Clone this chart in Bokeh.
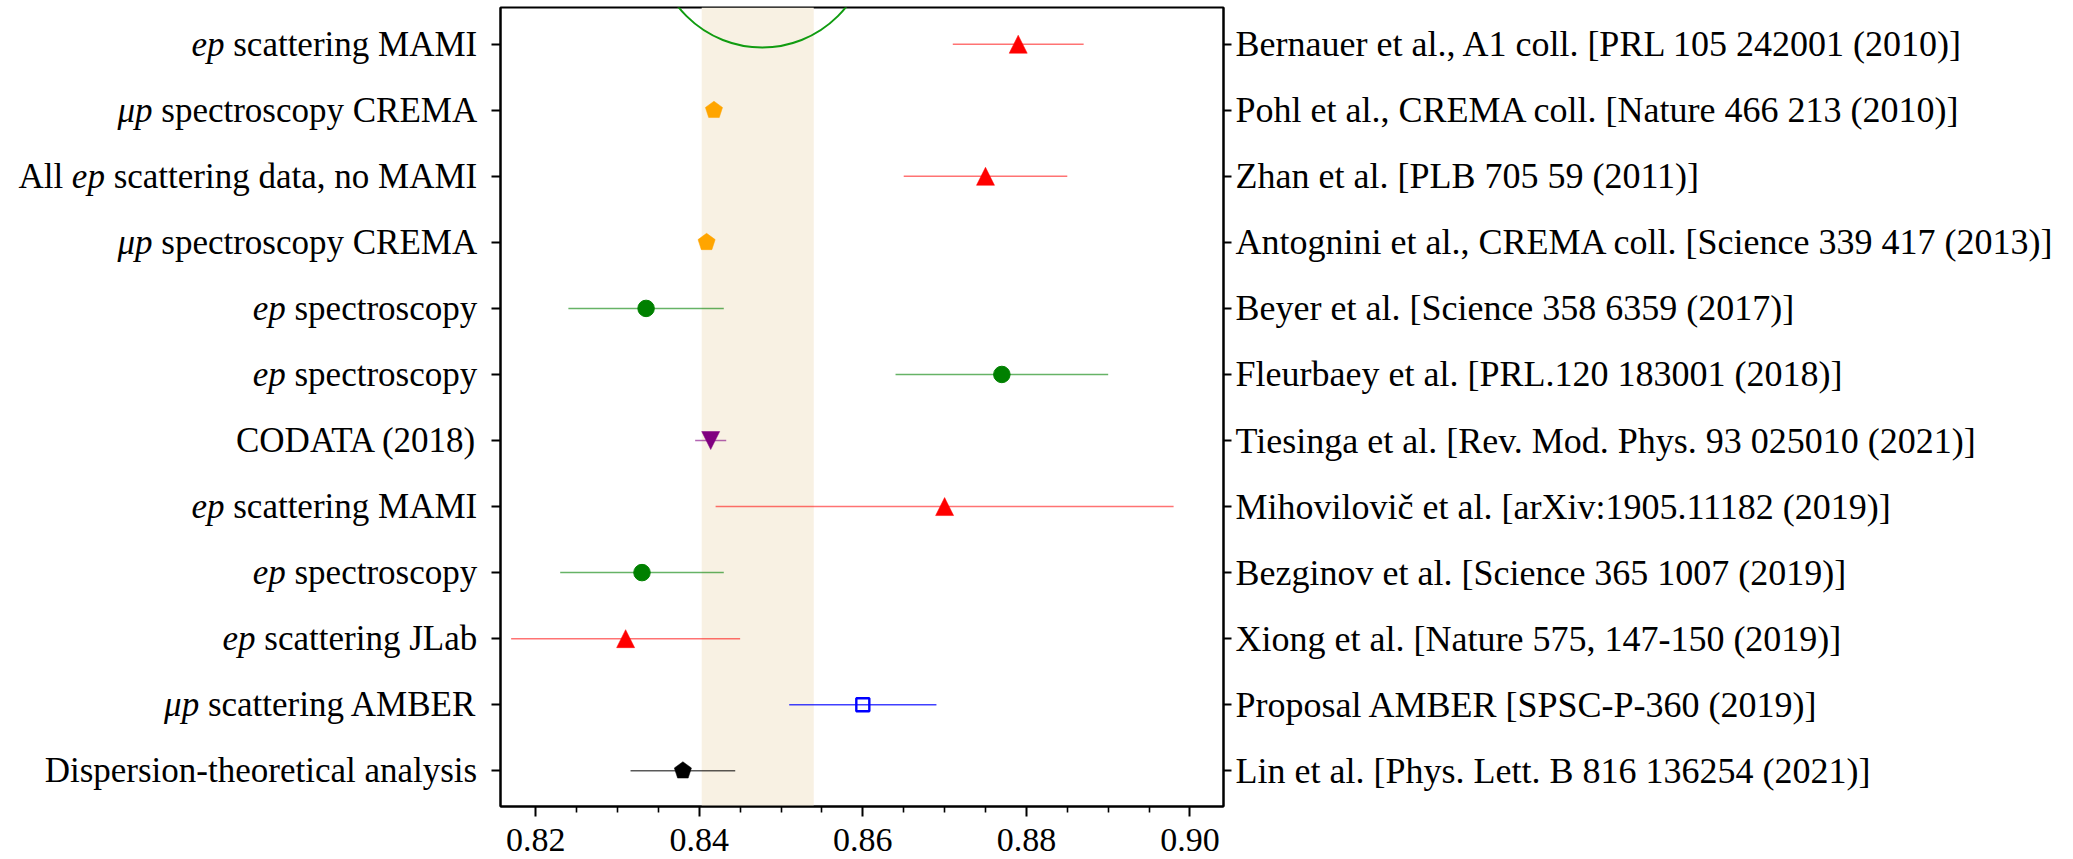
import math
from bokeh.plotting import figure
from bokeh.layouts import row
from bokeh.models import (Range1d, FixedTicker, LinearAxis, BoxAnnotation,
                          ColumnDataSource, CustomJSTickFormatter)
from bokeh.core.properties import value
from bokeh.embed import file_html
from bokeh.resources import INLINE

# ---------------- data ----------------
# left labels: text in {braces} is set in italic
left_labels = [
    "{ep} scattering MAMI",
    "{μp} spectroscopy CREMA",
    "All {ep} scattering data, no MAMI",
    "{μp} spectroscopy CREMA",
    "{ep} spectroscopy",
    "{ep} spectroscopy",
    "CODATA (2018)",
    "{ep} scattering MAMI",
    "{ep} spectroscopy",
    "{ep} scattering JLab",
    "{μp} scattering AMBER",
    "Dispersion-theoretical analysis",
]
right_labels = [
    "Bernauer et al., A1 coll. [PRL 105 242001 (2010)]",
    "Pohl et al., CREMA coll. [Nature 466 213 (2010)]",
    "Zhan et al. [PLB 705 59 (2011)]",
    "Antognini et al., CREMA coll. [Science 339 417 (2013)]",
    "Beyer et al. [Science 358 6359 (2017)]",
    "Fleurbaey et al. [PRL.120 183001 (2018)]",
    "Tiesinga et al. [Rev. Mod. Phys. 93 025010 (2021)]",
    "Mihovilovič et al. [arXiv:1905.11182 (2019)]",
    "Bezginov et al. [Science 365 1007 (2019)]",
    "Xiong et al. [Nature 575, 147-150 (2019)]",
    "Proposal AMBER [SPSC-P-360 (2019)]",
    "Lin et al. [Phys. Lett. B 816 136254 (2021)]",
]
radius = [0.879, 0.8418, 0.875, 0.8409, 0.8335, 0.877, 0.8414, 0.870, 0.833, 0.831, 0.860, 0.838]
err_minus = [0.008, 0.0007, 0.010, 0.0004, 0.0095, 0.013, 0.0019, 0.028, 0.010, 0.014, 0.009, 0.0064]
err_plus = [0.008, 0.0007, 0.010, 0.0004, 0.0095, 0.013, 0.0019, 0.028, 0.010, 0.014, 0.009, 0.0064]
marker_kind = ["triangle", "pentagon", "triangle", "pentagon", "circle", "circle",
               "inverted_triangle", "triangle", "circle", "triangle", "square", "pentagon"]

x_ticks = [0.82, 0.84, 0.86, 0.88, 0.90]
x_tick_labels = ["0.82", "0.84", "0.86", "0.88", "0.90"]
x_minor_ticks = [0.825, 0.83, 0.835, 0.845, 0.85, 0.855, 0.865, 0.87, 0.875,
                 0.885, 0.89, 0.895]
band_lo, band_hi = 0.8403, 0.8540
circle_x, circle_y = 0.8477, -1.57   # highlight circle centre (x, row)

# ---------------- style ----------------
colors = ["red", "orange", "red", "orange", "green", "green", "purple", "red",
          "green", "red", "blue", "black"]
bar_alpha = [0.55, 0.6, 0.55, 0.6, 0.6, 0.6, 0.6, 0.55, 0.6, 0.55, 0.75, 0.65]
SERIF = "Liberation Serif"
LEFT_FS = 35
RIGHT_FS = "36px"
TICK_FS = "34px"
TRI_H = 9.0      # half size of triangles, px
PENT_R = 9.0     # pentagon circumradius, px

X0, X1 = 0.8157, 0.9041
FRAME_W, FRAME_H = 723, 799
TOP_B = 7
LEFT_W = 480          # width of the label panel left of the plot
n = len(left_labels)
rows = list(range(n))
Y_TOP, Y_BOT = -0.5557, n - 1 + 0.541
PX_X = FRAME_W / (X1 - X0)
PX_Y = FRAME_H / (Y_BOT - Y_TOP)
y_rng = Range1d(Y_BOT, Y_TOP)

p = figure(frame_width=FRAME_W, frame_height=FRAME_H,
           x_range=Range1d(X0, X1), y_range=y_rng,
           output_backend="svg", toolbar_location=None,
           min_border_left=20, min_border_top=TOP_B, min_border_bottom=53,
           min_border_right=0, background_fill_color="white",
           border_fill_color="white")
p.xgrid.visible = False
p.ygrid.visible = False
p.outline_line_color = "black"
p.outline_line_width = 2

# band
p.add_layout(BoxAnnotation(left=band_lo, right=band_hi, fill_color="#f8f1e3",
                           fill_alpha=1.0, line_color=None, level="underlay"))

# highlight circle
r_px = 107
p.ellipse(x=[circle_x], y=[circle_y], width=2 * r_px / PX_X, height=2 * r_px / PX_Y,
          fill_color=None, line_color="#119c11", line_width=2)

# error bars
seg = ColumnDataSource(dict(
    x0=[r - m for r, m in zip(radius, err_minus)],
    x1=[r + m for r, m in zip(radius, err_plus)],
    y=rows, color=colors, alpha=bar_alpha))
p.segment(x0="x0", y0="y", x1="x1", y1="y", line_color="color",
          line_alpha="alpha", line_width=1.5, source=seg)

# polygon markers (matplotlib-like shapes)
def shape(kind):
    h = TRI_H
    if kind == "triangle":
        return [(0, h), (-h, -h), (h, -h)]
    if kind == "inverted_triangle":
        return [(0, -h), (-h, h), (h, h)]
    R = PENT_R
    return [(R * math.sin(math.radians(72 * k)), R * math.cos(math.radians(72 * k)))
            for k in range(5)]

pxs, pys, pcs = [], [], []
for i in rows:
    if marker_kind[i] in ("triangle", "inverted_triangle", "pentagon"):
        verts = shape(marker_kind[i])
        pxs.append([radius[i] + vx / PX_X for vx, vy in verts])
        pys.append([i - vy / PX_Y for vx, vy in verts])
        pcs.append(colors[i])
p.patches(xs="xs", ys="ys", fill_color="c", line_color="c", line_width=0.5,
          source=ColumnDataSource(dict(xs=pxs, ys=pys, c=pcs)))

ci = [i for i in rows if marker_kind[i] == "circle"]
p.scatter(x=[radius[i] for i in ci], y=ci, marker="circle", size=16.5,
          fill_color=[colors[i] for i in ci], line_color=[colors[i] for i in ci])
si = [i for i in rows if marker_kind[i] == "square"]
p.scatter(x=[radius[i] for i in si], y=si, marker="square", size=13,
          fill_color=None, line_color=[colors[i] for i in si], line_width=2.4)

# bottom axis
xa = p.xaxis[0]
xa.ticker = FixedTicker(ticks=x_ticks, minor_ticks=x_minor_ticks)
xa.major_label_overrides = {v: t for v, t in zip(x_ticks, x_tick_labels)}
xa.major_label_text_font = SERIF
xa.major_label_text_font_size = TICK_FS
xa.major_label_text_color = "black"
xa.major_label_standoff = 12
xa.axis_line_width = 2
xa.major_tick_out = 10
xa.major_tick_in = 0
xa.minor_tick_out = 6
xa.minor_tick_in = 0
xa.major_tick_line_width = 2
xa.minor_tick_line_width = 1.6

# left axis (ticks only; the labels are in the panel on the left)
ya = p.yaxis[0]
ya.ticker = FixedTicker(ticks=rows)
ya.formatter = CustomJSTickFormatter(code="return ''")
ya.major_label_text_font_size = "1px"
ya.major_label_standoff = 1
ya.axis_line_width = 2
ya.major_tick_out = 9
ya.major_tick_in = 0
ya.major_tick_line_width = 2
ya.minor_tick_out = 0
ya.minor_tick_in = 0

# right axis with references
ra = LinearAxis(ticker=FixedTicker(ticks=rows),
                major_label_overrides={i: t for i, t in enumerate(right_labels)})
ra.axis_line_width = 2
ra.major_tick_out = 8
ra.major_tick_in = 0
ra.major_tick_line_width = 2
ra.minor_tick_out = 0
ra.minor_tick_in = 0
ra.major_label_standoff = 4
ra.major_label_text_font = SERIF
ra.major_label_text_font_size = RIGHT_FS
ra.major_label_text_color = "black"
p.add_layout(ra, "right")

# ---------------- left label panel (mixed italic / upright) ----------------
TW = {' ': 250, '(': 333, ')': 333, ',': 250, '-': 333, '.': 250, ':': 278,
      'A': 722, 'B': 667, 'C': 667, 'D': 722, 'E': 611, 'I': 333, 'J': 389,
      'L': 611, 'M': 889, 'O': 722, 'R': 667, 'T': 611,
      'a': 444, 'b': 500, 'c': 444, 'd': 500, 'e': 444, 'f': 333, 'g': 500,
      'h': 500, 'i': 278, 'l': 278, 'm': 778, 'n': 500, 'o': 500, 'p': 500,
      'r': 333, 's': 389, 't': 278, 'y': 500, 'μ': 500}

def text_w(s):
    return sum(TW.get(ch, 500) for ch in s) * LEFT_FS / 1000.0

def segments(lbl):
    out, cur = [], ""
    for ch in lbl:
        if ch == "{":
            if cur:
                out.append((cur, False))
            cur = ""
        elif ch == "}":
            out.append((cur, True))
            cur = ""
        else:
            cur += ch
    if cur:
        out.append((cur, False))
    return out

space_w = TW[' '] * LEFT_FS / 1000.0
lx, ly, lt, ls = [], [], [], []
RIGHT_EDGE = LEFT_W - 3.3       # labels end 23 px left of the frame
for i, lbl in enumerate(left_labels):
    off = 0.0
    for txt, ital in reversed(segments(lbl)):
        trail = len(txt) - len(txt.rstrip(' '))
        lead = len(txt) - len(txt.lstrip(' '))
        off += trail * space_w
        core = txt.strip(' ')
        lx.append(RIGHT_EDGE - off)
        ly.append(i)
        lt.append(core)
        ls.append("italic" if ital else "normal")
        off += text_w(core) + lead * space_w

lp = figure(frame_width=LEFT_W, frame_height=FRAME_H,
            x_range=Range1d(0, LEFT_W), y_range=y_rng,
            output_backend="svg", toolbar_location=None,
            x_axis_location=None, y_axis_location=None,
            min_border=0, min_border_top=TOP_B,
            background_fill_color="white", border_fill_color="white")
lp.outline_line_color = None
lp.xgrid.visible = False
lp.ygrid.visible = False
lp.text(x="x", y="y", text="t", text_font_style="fs",
        source=ColumnDataSource(dict(x=lx, y=ly, t=lt, fs=ls)),
        text_align="right", text_baseline="middle",
        text_font=value(SERIF), text_font_size=value(f"{LEFT_FS}px"),
        text_color="black")

layout = row(lp, p)
open("out.html", "w").write(file_html(layout, INLINE))
